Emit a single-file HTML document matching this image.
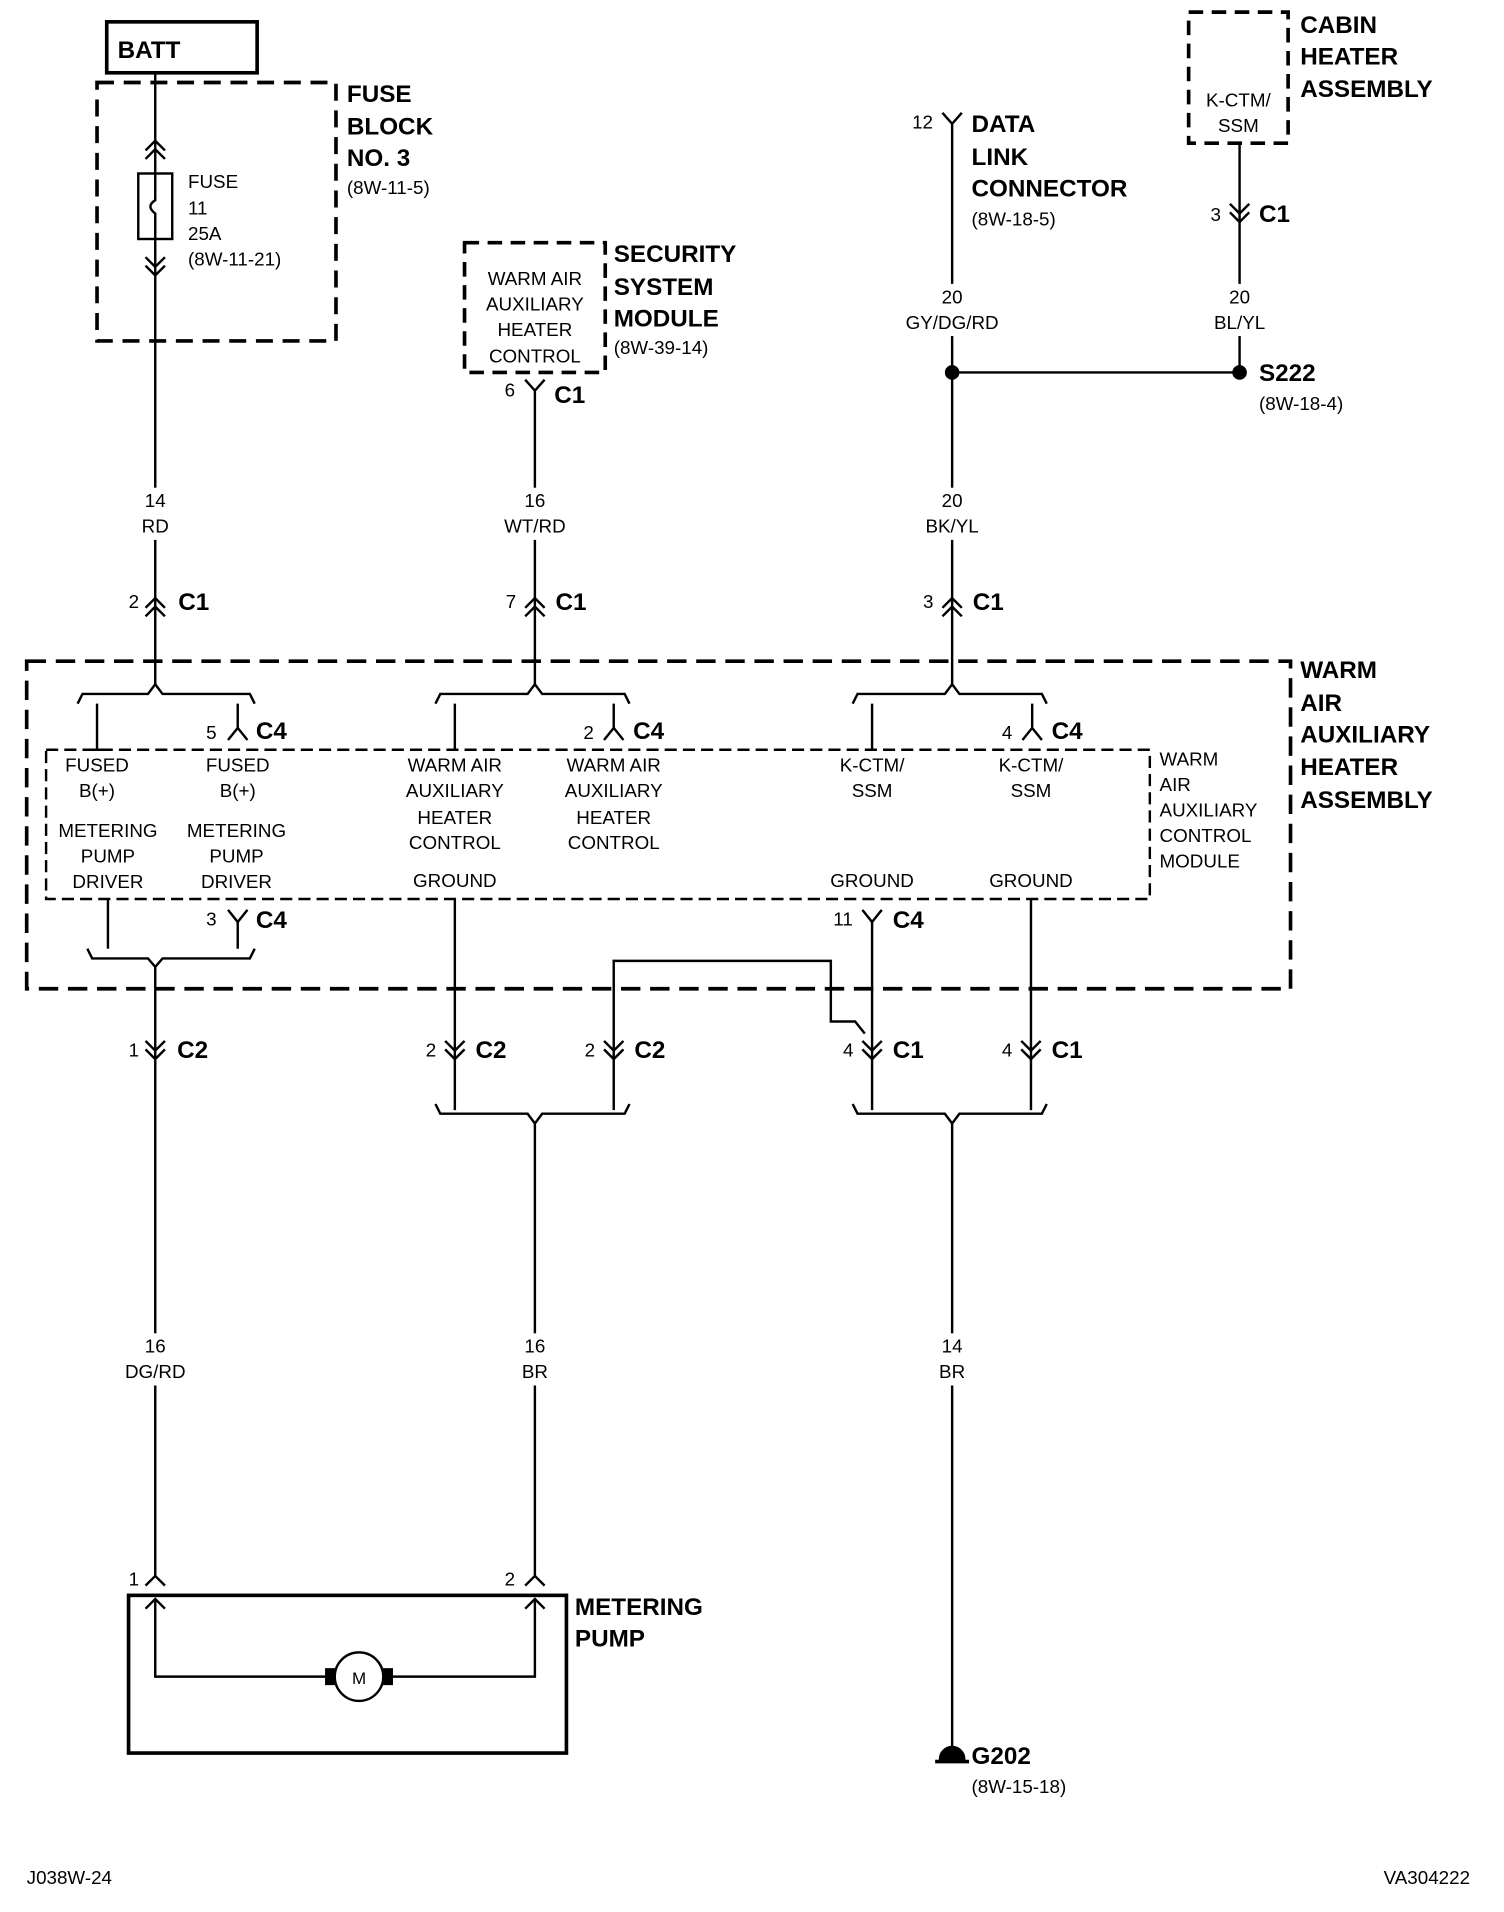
<!DOCTYPE html>
<html><head><meta charset="utf-8"><style>
html,body{margin:0;padding:0;background:#fff}
svg{display:block}
text{font-family:"Liberation Sans",sans-serif;font-size:15.5px;fill:#000}
.b{font-weight:bold;font-size:20px}
.m{text-anchor:middle}
.r{text-anchor:end}
</style></head><body>
<svg width="1504" height="1912" viewBox="0 0 1240 1576" preserveAspectRatio="none" xmlns="http://www.w3.org/2000/svg">
<g fill="none" stroke="#000" stroke-width="2">
<rect x="88" y="18" width="124" height="42" stroke-width="3"/>
<rect x="80" y="68" width="197" height="213" stroke-width="3" stroke-dasharray="14,8"/>
<line x1="128" y1="60" x2="128" y2="565"/>
<path d="M120,124 L128,116 L136,124 M120,131 L128,123 L136,131"/>
<rect x="114" y="143" width="28" height="54" fill="#fff"/>
<path d="M128,143 L128,165 Q120,170 128,176 L128,197"/>
<path d="M120,212 L128,220 L136,212 M120,219 L128,227 L136,219"/>
<path d="M120,501 L128,493 L136,501 M120,508 L128,500 L136,508"/>
<rect x="383" y="200" width="116" height="107" stroke-width="3" stroke-dasharray="12,7"/>
<path d="M433,313 L441,322 L449,313 M441,322 L441,565"/>
<path d="M433,501 L441,493 L449,501 M433,508 L441,500 L449,508"/>
<path d="M777,93 L785,102 L793,93 M785,102 L785,565"/>
<line x1="785" y1="307" x2="1022" y2="307"/>
<circle cx="785" cy="307" r="5" fill="#000"/>
<circle cx="1022" cy="307" r="5" fill="#000"/>
<path d="M777,501 L785,493 L793,501 M777,508 L785,500 L793,508"/>
<rect x="980" y="10" width="82" height="108" stroke-width="3" stroke-dasharray="12,7"/>
<line x1="1022" y1="118" x2="1022" y2="307"/>
<path d="M1014,168 L1022,176 L1030,168 M1014,175 L1022,183 L1030,175"/>
<rect x="22" y="545" width="1042" height="270" stroke-width="3" stroke-dasharray="16,8"/>
<rect x="38" y="618" width="910" height="123" stroke-width="2" stroke-dasharray="10,5"/>
<path d="M64,580 L68,572 L122,572 L128,564 L134,572 L206,572 L210,580"/>
<path d="M359,580 L363,572 L435,572 L441,564 L447,572 L515,572 L519,580"/>
<path d="M703,580 L707,572 L779,572 L785,564 L791,572 L859,572 L863,580"/>
<path d="M80,580 L80,618 M74,618 L86,618"/>
<path d="M196,580 L196,600 M188,610 L196,600 L204,610"/>
<path d="M375,580 L375,618"/>
<path d="M506,580 L506,600 M498,610 L506,600 L514,610"/>
<path d="M719,580 L719,618"/>
<path d="M851,580 L851,600 M843,610 L851,600 L859,610"/>
<path d="M89,741 L89,782"/>
<path d="M188,750 L196,760 L204,750 M196,760 L196,782"/>
<path d="M72,782 L76,790 L122,790 L128,797 L134,790 L206,790 L210,782"/>
<line x1="128" y1="797" x2="128" y2="1300"/>
<path d="M120,858 L128,866 L136,858 M120,865 L128,873 L136,865"/>
<line x1="375" y1="741" x2="375" y2="915"/>
<path d="M367,858 L375,866 L383,858 M367,865 L375,873 L383,865"/>
<path d="M506,915 L506,792 L685,792 L685,842 L705,842 L713,852"/>
<path d="M498,858 L506,866 L514,858 M498,865 L506,873 L514,865"/>
<path d="M711,750 L719,760 L727,750 M719,760 L719,915"/>
<path d="M711,858 L719,866 L727,858 M711,865 L719,873 L727,865"/>
<line x1="850" y1="741" x2="850" y2="915"/>
<path d="M842,858 L850,866 L858,858 M842,865 L850,873 L858,865"/>
<path d="M359,910 L363,918 L435,918 L441,926 L447,918 L515,918 L519,910"/>
<path d="M703,910 L707,918 L779,918 L785,926 L791,918 L859,918 L863,910"/>
<line x1="441" y1="926" x2="441" y2="1300"/>
<line x1="785" y1="926" x2="785" y2="1445"/>
<path d="M120,1307 L128,1299 L136,1307"/>
<path d="M433,1307 L441,1299 L449,1307"/>
<rect x="106" y="1315" width="361" height="130" stroke-width="3"/>
<path d="M120,1326 L128,1318 L136,1326 M128,1318 L128,1382 L270,1382"/>
<path d="M433,1326 L441,1318 L449,1326 M441,1318 L441,1382 L322,1382"/>
<rect x="269" y="1376" width="7" height="12" fill="#000"/>
<rect x="316" y="1376" width="7" height="12" fill="#000"/>
<circle cx="296" cy="1382" r="20" fill="#fff"/>
<path d="M775,1450 A10,10 0 0 1 795,1450 Z" fill="#000"/>
<line x1="771" y1="1452" x2="799" y2="1452" stroke-width="3"/>
</g>
<g fill="#fff">
<rect x="103" y="402" width="50" height="43"/>
<rect x="410" y="402" width="62" height="43"/>
<rect x="755" y="402" width="60" height="43"/>
<rect x="740" y="234" width="90" height="43"/>
<rect x="995" y="234" width="55" height="43"/>
<rect x="100" y="1099" width="56" height="43"/>
<rect x="425" y="1099" width="32" height="43"/>
<rect x="770" y="1099" width="30" height="43"/>
</g>
<text class="b" x="97" y="48">BATT</text>
<text class="b" x="286" y="84">FUSE</text><text class="b" x="286" y="111">BLOCK</text><text class="b" x="286" y="137">NO. 3</text>
<text x="286" y="160">(8W-11-5)</text>
<text x="155" y="155">FUSE</text><text x="155" y="177">11</text><text x="155" y="198">25A</text><text x="155" y="219">(8W-11-21)</text>
<text class="m" x="128" y="418">14</text><text class="m" x="128" y="439">RD</text>
<text x="106" y="501">2</text><text class="b" x="147" y="503">C1</text>
<text class="m" x="441" y="235">WARM AIR</text><text class="m" x="441" y="256">AUXILIARY</text><text class="m" x="441" y="277">HEATER</text><text class="m" x="441" y="299">CONTROL</text>
<text class="b" x="506" y="216">SECURITY</text><text class="b" x="506" y="243">SYSTEM</text><text class="b" x="506" y="269">MODULE</text>
<text x="506" y="292">(8W-39-14)</text>
<text x="416" y="327">6</text><text class="b" x="457" y="332">C1</text>
<text class="m" x="441" y="418">16</text><text class="m" x="441" y="439">WT/RD</text>
<text x="417" y="501">7</text><text class="b" x="458" y="503">C1</text>
<text x="752" y="106">12</text>
<text class="b" x="801" y="109">DATA</text><text class="b" x="801" y="136">LINK</text><text class="b" x="801" y="162">CONNECTOR</text>
<text x="801" y="186">(8W-18-5)</text>
<text class="m" x="785" y="250">20</text><text class="m" x="785" y="271">GY/DG/RD</text>
<text class="b" x="1038" y="314">S222</text><text x="1038" y="338">(8W-18-4)</text>
<text class="m" x="785" y="418">20</text><text class="m" x="785" y="439">BK/YL</text>
<text x="761" y="501">3</text><text class="b" x="802" y="503">C1</text>
<text class="m" x="1021" y="88">K-CTM/</text><text class="m" x="1021" y="109">SSM</text>
<text class="b" x="1072" y="27">CABIN</text><text class="b" x="1072" y="53">HEATER</text><text class="b" x="1072" y="80">ASSEMBLY</text>
<text x="998" y="182">3</text><text class="b" x="1038" y="183">C1</text>
<text class="m" x="1022" y="250">20</text><text class="m" x="1022" y="271">BL/YL</text>
<text class="b" x="1072" y="559">WARM</text><text class="b" x="1072" y="586">AIR</text><text class="b" x="1072" y="612">AUXILIARY</text><text class="b" x="1072" y="639">HEATER</text><text class="b" x="1072" y="666">ASSEMBLY</text>
<text x="956" y="631">WARM</text><text x="956" y="652">AIR</text><text x="956" y="673">AUXILIARY</text><text x="956" y="694">CONTROL</text><text x="956" y="715">MODULE</text>
<text x="170" y="609">5</text><text class="b" x="211" y="609">C4</text>
<text x="481" y="609">2</text><text class="b" x="522" y="609">C4</text>
<text x="826" y="609">4</text><text class="b" x="867" y="609">C4</text>
<text class="m" x="80" y="636">FUSED</text><text class="m" x="80" y="657">B(+)</text>
<text class="m" x="89" y="690">METERING</text><text class="m" x="89" y="711">PUMP</text><text class="m" x="89" y="732">DRIVER</text>
<text class="m" x="196" y="636">FUSED</text><text class="m" x="196" y="657">B(+)</text>
<text class="m" x="195" y="690">METERING</text><text class="m" x="195" y="711">PUMP</text><text class="m" x="195" y="732">DRIVER</text>
<text class="m" x="375" y="636">WARM AIR</text><text class="m" x="375" y="657">AUXILIARY</text><text class="m" x="375" y="679">HEATER</text><text class="m" x="375" y="700">CONTROL</text><text class="m" x="375" y="731">GROUND</text>
<text class="m" x="506" y="636">WARM AIR</text><text class="m" x="506" y="657">AUXILIARY</text><text class="m" x="506" y="679">HEATER</text><text class="m" x="506" y="700">CONTROL</text>
<text class="m" x="719" y="636">K-CTM/</text><text class="m" x="719" y="657">SSM</text><text class="m" x="719" y="731">GROUND</text>
<text class="m" x="850" y="636">K-CTM/</text><text class="m" x="850" y="657">SSM</text><text class="m" x="850" y="731">GROUND</text>
<text x="170" y="763">3</text><text class="b" x="211" y="765">C4</text>
<text x="687" y="763">11</text><text class="b" x="736" y="765">C4</text>
<text x="106" y="871">1</text><text class="b" x="146" y="872">C2</text>
<text x="351" y="871">2</text><text class="b" x="392" y="872">C2</text>
<text x="482" y="871">2</text><text class="b" x="523" y="872">C2</text>
<text x="695" y="871">4</text><text class="b" x="736" y="872">C1</text>
<text x="826" y="871">4</text><text class="b" x="867" y="872">C1</text>
<text class="m" x="128" y="1115">16</text><text class="m" x="128" y="1136">DG/RD</text>
<text class="m" x="441" y="1115">16</text><text class="m" x="441" y="1136">BR</text>
<text class="m" x="785" y="1115">14</text><text class="m" x="785" y="1136">BR</text>
<text x="106" y="1307">1</text><text x="416" y="1307">2</text>
<text class="b" x="474" y="1331">METERING</text><text class="b" x="474" y="1357">PUMP</text>
<text class="m" x="296" y="1388" style="font-size:14px">M</text>
<text class="b" x="801" y="1454">G202</text><text x="801" y="1478">(8W-15-18)</text>
<text x="22" y="1553">J038W-24</text><text class="r" x="1212" y="1553">VA304222</text>
</svg>
</body></html>
